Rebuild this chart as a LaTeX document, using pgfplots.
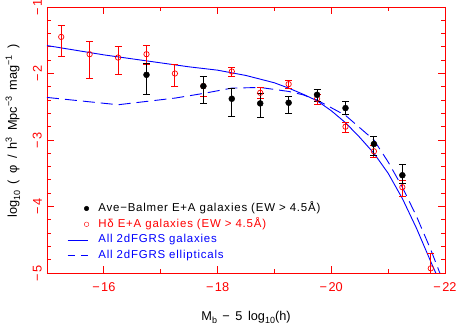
\documentclass[border=0pt]{standalone}
\usepackage{fontspec}
\setmainfont{Liberation Sans}
\newfontfamily\legfont{Liberation Sans}[LetterSpace=7]
\usepackage{pgfplots}
\pgfplotsset{compat=1.18}
\pgfplotsset{
  legmark/.style={legend image code/.code={\draw[##1] plot coordinates {(19bp,0bp)};}},
  legline/.style={legend image code/.code={\draw[##1] (0bp,0bp) -- (20bp,0bp);}},
  legdash/.style={legend image code/.code={\draw[##1, blue, dash pattern=on 7bp off 6bp] (0bp,0bp) -- (20bp,0bp);}},
  legnone/.style={legend image code/.code={}},
}
\newcommand{\sub}[1]{\raisebox{-0.45ex}{\fontsize{9}{9}\selectfont #1}}
\newcommand{\sps}[1]{\raisebox{0.75ex}{\fontsize{9}{9}\selectfont #1}}
\newcommand{\mn}{−\kern1.5bp}
\newcommand{\gap}{\hspace{6.3bp}}
\newcommand{\xgap}{\hspace{5.5bp}}
\pgfplotstableread{
x y ep em
-15.25 -1.45 0.17 0.30
-15.75 -1.71 0.19 0.37
-16.25 -1.76 0.16 0.25
-16.75 -1.71 0.13 0.15
-17.25 -2.00 0.13 0.19
-17.75 -2.19 0.15 0.16
-18.25 -1.97 0.06 0.08
-18.75 -2.29 0.08 0.08
-19.25 -2.16 0.06 0.07
-19.75 -2.38 0.06 0.08
-20.25 -2.80 0.06 0.09
-20.75 -3.17 0.08 0.09
-21.25 -3.71 0.10 0.14
-21.75 -4.93 0.22 0.40
}\hdelta
\pgfplotstableread{
x y ep em
-16.75 -2.02 0.17 0.30
-17.75 -2.19 0.15 0.26
-18.25 -2.38 0.15 0.26
-18.75 -2.45 0.15 0.21
-19.25 -2.44 0.10 0.16
-19.75 -2.32 0.08 0.10
-20.25 -2.52 0.10 0.10
-20.75 -3.06 0.12 0.17
-21.25 -3.53 0.16 0.13
}\balmer
\pgfplotstableread{
x y
-15.00 -1.58
-15.50 -1.65
-16.00 -1.72
-16.50 -1.78
-17.00 -1.84
-17.50 -1.90
-18.00 -1.95
-18.50 -2.03
-19.00 -2.14
-19.25 -2.22
-19.50 -2.31
-19.75 -2.41
-20.00 -2.56
-20.25 -2.74
-20.50 -2.96
-20.75 -3.20
-21.00 -3.50
-21.25 -3.88
-21.50 -4.33
-21.75 -4.83
-21.90 -5.12
}\allgal
\pgfplotstableread{
x y
-15.00 -2.36
-16.25 -2.47
-17.25 -2.37
-17.75 -2.30
-18.25 -2.22
-18.75 -2.21
-19.25 -2.27
-19.50 -2.32
-19.75 -2.40
-20.25 -2.63
-20.75 -3.00
-21.00 -3.33
-21.25 -3.71
-21.50 -4.15
-21.75 -4.65
-22.00 -5.20
}\ellgal
\begin{document}
\begin{tikzpicture}
\begin{axis}[
  name=ax,
  scale only axis, width=398bp, height=266bp,
  x dir=reverse, xmin=-22, xmax=-15, ymin=-5, ymax=-1,
  axis line style={red, line width=0.8bp},
  xtick={-16,-18,-20,-22}, xticklabels={\mn16,\mn18,\mn20,\mn22},
  minor xtick={-15,-17,-19,-21},
  ytick={-1,-2,-3,-4,-5}, yticklabels={\mn1,\mn2,\mn3,\mn4,\mn5},
  minor y tick num=4,
  tick align=inside,
  major tick length=7bp, minor tick length=4bp,
  tick style={red, line width=0.8bp},
  ticklabel style={red, font=\fontsize{12.8}{14}\selectfont, inner sep=0pt},
  xticklabel shift=9.5bp,
  yticklabel style={rotate=90, anchor=south},
  yticklabel shift=5bp,
  label style={black, font=\fontsize{12.8}{14}\selectfont, inner sep=0pt},
  xlabel={M\sub{b}\xgap−\xgap5\xgap log\sub{10}(h)},
  xlabel style={at={(axis description cs:0.5,-0.1793)}, anchor=base},
  ylabel={log\sub{10}\gap(\gap φ\gap/\gap h\sps{3}\gap Mpc\sps{−3}\gap mag\sps{−1}\gap)},
  ylabel style={at={(axis description cs:-0.0754,0.534)}, anchor=base},
  legend cell align=left,
  legend style={at={(rel axis cs:0.05,0.263)}, anchor=north west, draw=none, fill=none,
    font=\fontsize{11.5}{13}\legfont, inner sep=0pt, row sep=5.3bp, column sep=9.5bp,
    nodes={inner sep=0pt, text height=8bp, text depth=2.5bp}},
]
\addplot[blue, line width=0.9bp, forget plot] table[x=x,y=y] {\allgal};
\addplot[blue, line width=0.9bp, dash pattern=on 12bp off 6bp, forget plot] table[x=x,y=y] {\ellgal};
\addplot[red, only marks, mark=o, mark size=2.7bp, mark options={line width=0.7bp}, forget plot,
  error bars/.cd, y dir=both, y explicit, error bar style={line width=1bp},
  error mark options={rotate=90, mark size=3.5bp, line width=1bp}]
  table[x=x, y=y, y error plus=ep, y error minus=em] {\hdelta};
\addplot[black, only marks, mark=*, mark size=3bp, forget plot,
  error bars/.cd, y dir=both, y explicit, error bar style={line width=1bp},
  error mark options={rotate=90, mark size=3.5bp, line width=1bp}]
  table[x=x, y=y, y error plus=ep, y error minus=em] {\balmer};
\addlegendimage{black, mark=*, mark size=2.3bp, legmark}
\addlegendentry[text=black]{Ave−Balmer E+A galaxies (EW > 4.5Å)}
\addlegendimage{red, mark=o, mark size=2.3bp, legmark}
\addlegendentry[text=red]{Hδ E+A galaxies (EW > 4.5Å)}
\addlegendimage{color=blue, line width=0.9bp, legline}
\addlegendentry[text=blue]{All 2dFGRS galaxies}
\addlegendimage{color=blue, line width=0.9bp, legdash}
\addlegendentry[text=blue]{\color{blue}All 2dFGRS ellipticals}
\addlegendimage{legnone}
\addlegendentry{}
\end{axis}
\pgfresetboundingbox
\path[use as bounding box] ([shift={(-47bp,-54bp)}]ax.south west) rectangle ([shift={(15bp,7bp)}]ax.north east);
\end{tikzpicture}
\end{document}
